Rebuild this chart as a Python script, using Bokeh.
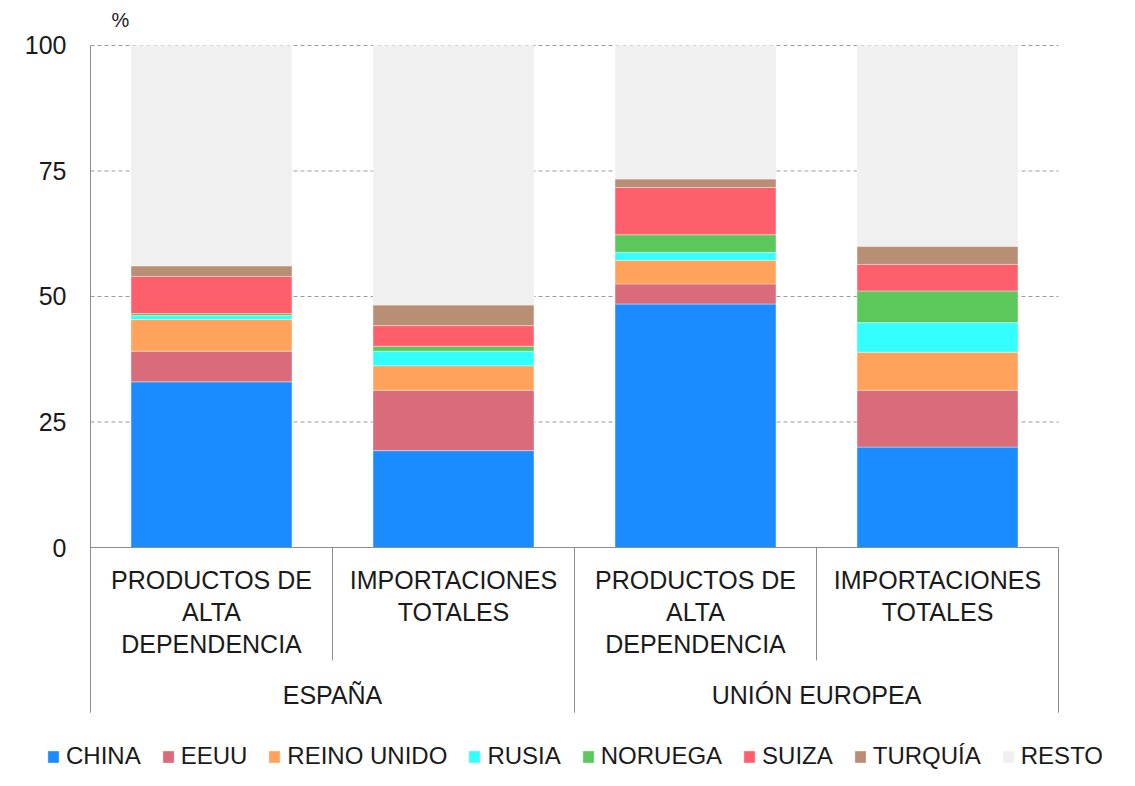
from bokeh.plotting import figure
from bokeh.models import FactorRange, Range1d, FixedTicker, ColumnDataSource, Legend
from bokeh.core.properties import value
from bokeh.embed import file_html
from bokeh.resources import INLINE

# ---- data ----
groups = ["ESPAÑA", "UNIÓN EUROPEA"]
subcats = ["PRODUCTOS DE\nALTA\nDEPENDENCIA", "IMPORTACIONES\nTOTALES"]
series = ["CHINA", "EEUU", "REINO UNIDO", "RUSIA", "NORUEGA", "SUIZA", "TURQUÍA", "RESTO"]
colors = ["#1a8cff", "#d96b7a", "#ffa35c", "#33ffff", "#5cc85c", "#ff5f6d", "#b88f74", "#f0f0f0"]
# values per bar: [ES productos, ES importaciones, UE productos, UE importaciones]
china      = [33.0, 19.3, 48.5, 20.0]
eeuu       = [6.1, 12.0, 4.0, 11.3]
reino      = [6.3, 4.9, 4.7, 7.6]
rusia      = [0.8, 2.9, 1.6, 5.9]
noruega    = [0.4, 1.0, 3.5, 6.3]
suiza      = [7.4, 4.1, 9.4, 5.3]
turquia    = [2.1, 4.1, 1.7, 3.6]
resto      = [43.9, 51.7, 26.6, 40.0]
y_ticks = [0, 25, 50, 75, 100]

factors = [(g, s) for g in groups for s in subcats]
data = {"x": factors}
for name, vals in zip(series, [china, eeuu, reino, rusia, noruega, suiza, turquia, resto]):
    data[name] = vals
source = ColumnDataSource(data)

FONT = "Liberation Sans"
TXT = "#1a1a1a"
GRAY = "#8c8c8c"
n = len(factors)

p = figure(
    width=1119, height=770,
    x_range=FactorRange(*factors, factor_padding=0, group_padding=0, subgroup_padding=0,
                        range_padding=0.1818, range_padding_units="absolute"),
    y_range=Range1d(-44.42, 108.96),
    x_axis_location=None,
    output_backend="svg", toolbar_location=None,
    min_border_left=46, min_border_right=17, min_border_top=0, min_border_bottom=0,
)
p.outline_line_color = None
p.xgrid.visible = False
p.ygrid.visible = False

ax = p.yaxis[0]
ax.ticker = FixedTicker(ticks=y_ticks)
ax.axis_line_color = None
ax.major_tick_out = 0
ax.major_tick_in = 0
ax.major_tick_line_color = None
ax.minor_tick_line_color = None
ax.major_label_standoff = -20
ax.major_label_text_font = FONT
ax.major_label_text_font_size = "25px"
ax.major_label_text_color = TXT

# dashed horizontal gridlines across the category area
grid_y = y_ticks[1:]
p.segment(x0=[0] * len(grid_y), x1=[n] * len(grid_y), y0=grid_y, y1=grid_y,
          line_color="#9a9a9a", line_dash="4 3", line_width=1)

renderers = p.vbar_stack(series, x="x", width=0.665, source=source, color=colors,
                         line_color="white", line_width=0.6, line_alpha=0.6)

# axis lines / separators
p.segment(x0=[0, 0], y0=[100, 0], x1=[0, n], y1=[-32.9, 0], line_color=GRAY, line_width=1)
p.segment(x0=[2, 4], y0=[0, 0], x1=[2, 4], y1=[-32.9, -32.9], line_color=GRAY, line_width=1)
p.segment(x0=[1, 3], y0=[0, 0], x1=[1, 3], y1=[-22.5, -22.5], line_color=GRAY, line_width=1)

# category labels
p.text(x=factors, y=[-3.7] * n, text=[f[1] for f in factors],
       text_align="center", text_baseline="top", text_font=value(FONT),
       text_font_size="25px", text_color=TXT, text_line_height=1.15)
p.text(x=groups, y=[-29.3] * len(groups), text=groups,
       text_align="center", text_baseline="middle", text_font=value(FONT),
       text_font_size="25px", text_color=TXT)
p.text(x=[0.124], y=[105.0], text=["%"], text_align="center", text_baseline="middle",
       text_font=value(FONT), text_font_size="20px", text_color=TXT)

lg = Legend(items=[(name, [r]) for name, r in zip(series, renderers)],
            orientation="horizontal", location=(0, 0),
            padding=0, margin=0, spacing=20, label_standoff=6,
            glyph_width=14, glyph_height=15, label_height=26,
            label_text_font=FONT, label_text_font_size="24px", label_text_color=TXT,
            label_text_baseline="middle",
            border_line_color=None, background_fill_alpha=0)
p.add_layout(lg)

open("out.html", "w").write(file_html(p, INLINE))
